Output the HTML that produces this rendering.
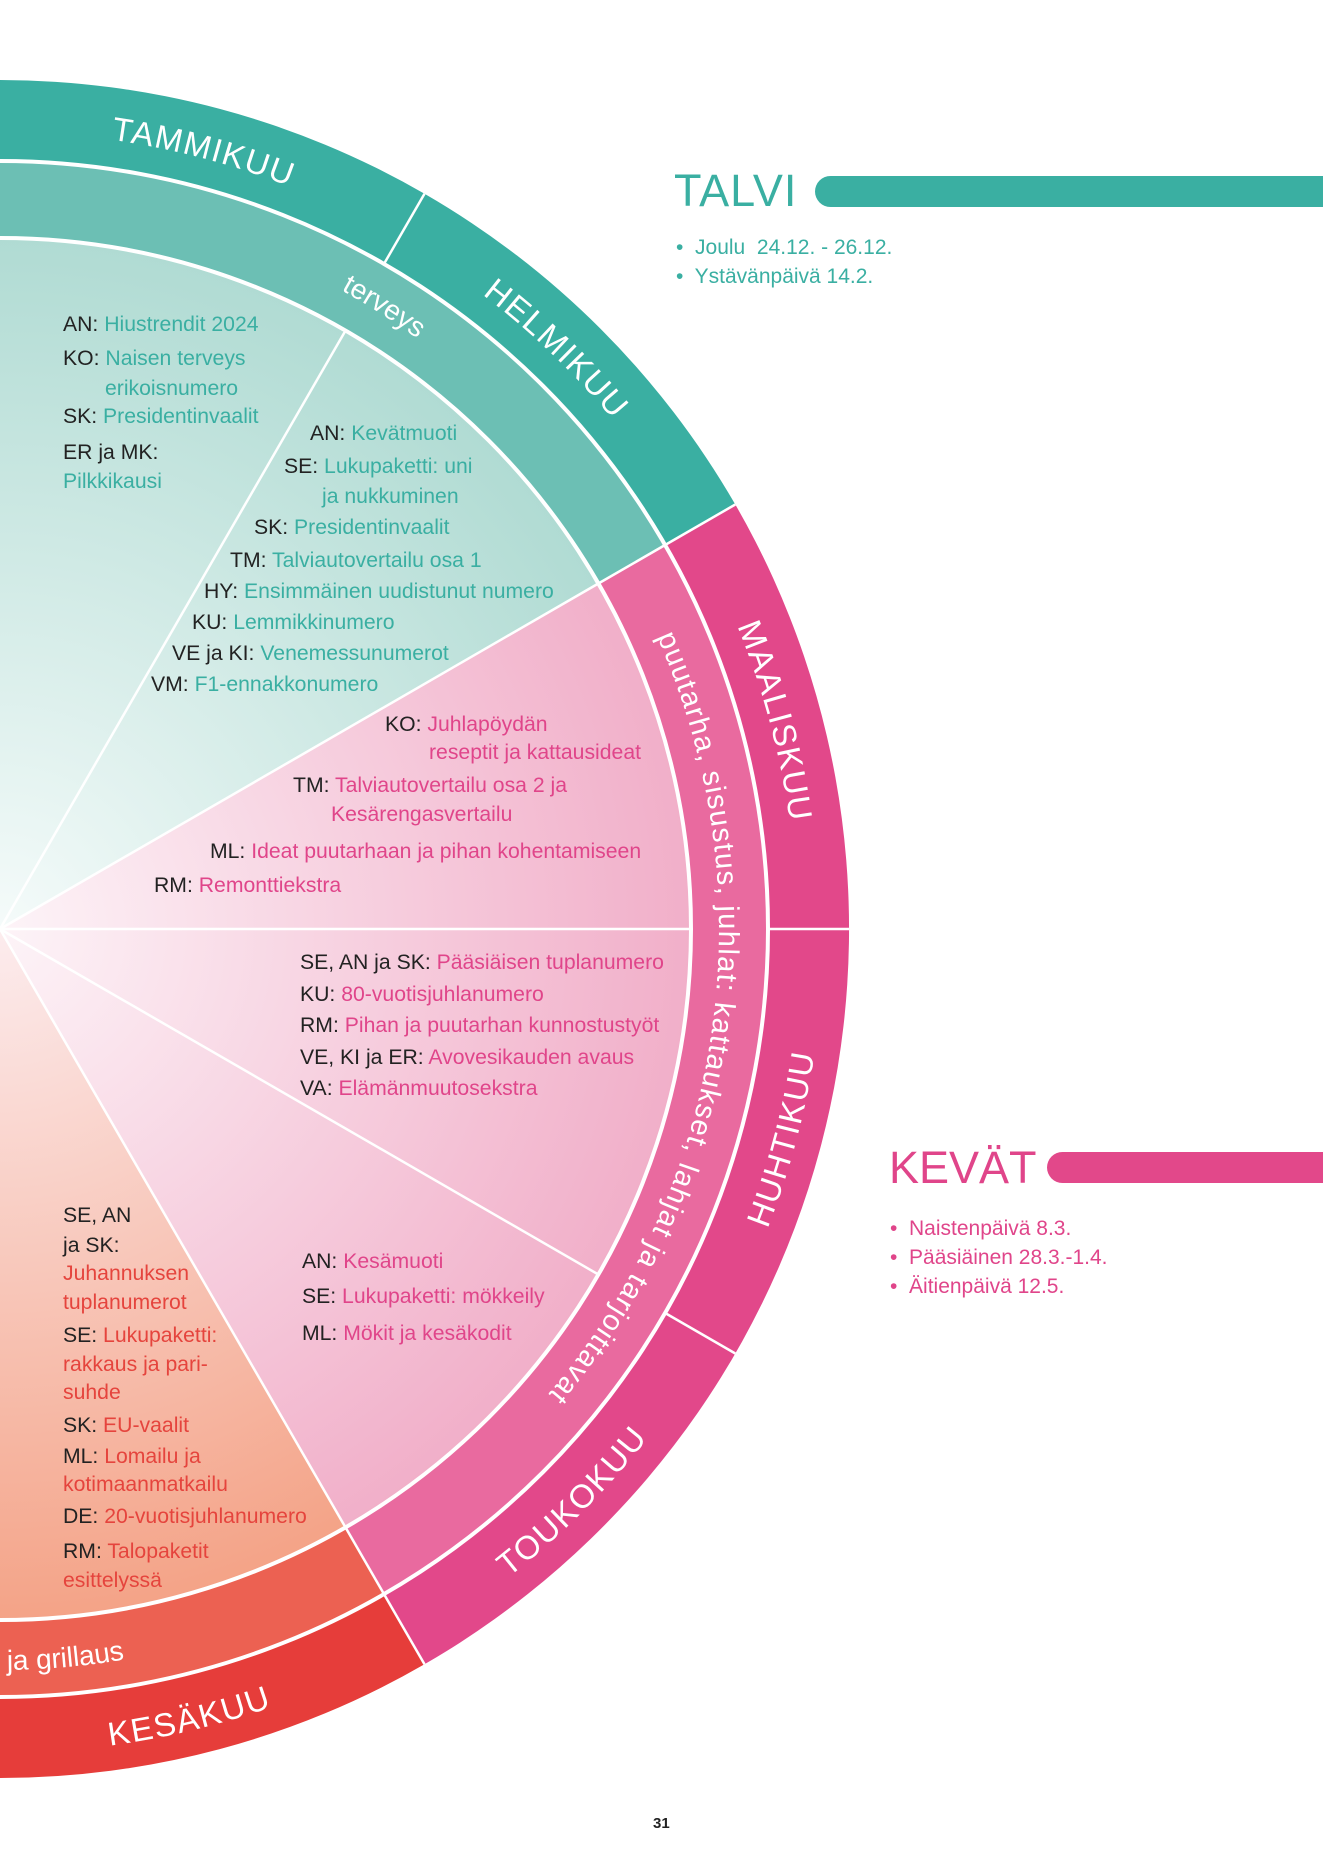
<!DOCTYPE html>
<html><head><meta charset="utf-8">
<style>
html,body{margin:0;padding:0;background:#fff;}
body{width:1323px;height:1871px;position:relative;overflow:hidden;font-family:"Liberation Sans","DejaVu Sans",sans-serif;}
.l{position:absolute;font-size:21.2px;line-height:24px;margin-top:-12px;white-space:nowrap;color:#222;}
.t{color:#3aafa2}.p{color:#e0458a}.r{color:#e5443d}
.h{position:absolute;font-size:45px;line-height:50px;margin-top:-25px;letter-spacing:1px;}
.b{position:absolute;font-size:21px;line-height:24px;margin-top:-12px;white-space:nowrap;}
.bar{position:absolute;height:31px;border-radius:16px 0 0 16px;}
</style></head><body>
<svg width="1323" height="1871" style="position:absolute;left:0;top:0">
<defs>
<radialGradient id="gt" cx="0" cy="929" r="691" gradientUnits="userSpaceOnUse"><stop offset="0" stop-color="#f5fbfa"/><stop offset="1" stop-color="#b0dbd3"/></radialGradient>
<radialGradient id="gp" cx="0" cy="929" r="691" gradientUnits="userSpaceOnUse"><stop offset="0" stop-color="#fdf4f8"/><stop offset="1" stop-color="#f1afc9"/></radialGradient>
<radialGradient id="gr" cx="0" cy="929" r="691" gradientUnits="userSpaceOnUse"><stop offset="0" stop-color="#fcecee"/><stop offset="1" stop-color="#f4a387"/></radialGradient>
</defs>
<path d="M0,80 A849 849 0 0 1 735.3,504.5 L665.1,545 A768 768 0 0 0 0,161 Z" fill="#3aafa2"/>
<path d="M735.3,504.5 A849 849 0 0 1 424.5,1664.3 L384,1594.1 A768 768 0 0 0 665.1,545 Z" fill="#e2488a"/>
<path d="M424.5,1664.3 A849 849 0 0 1 0,1778 L0,1697 A768 768 0 0 0 384,1594.1 Z" fill="#e63d3a"/>
<path d="M0,161 A768 768 0 0 1 665.1,545 L598.4,583.5 A691 691 0 0 0 0,238 Z" fill="#6cbfb4"/>
<path d="M665.1,545 A768 768 0 0 1 384,1594.1 L345.5,1527.4 A691 691 0 0 0 598.4,583.5 Z" fill="#e96a9f"/>
<path d="M384,1594.1 A768 768 0 0 1 0,1697 L0,1620 A691 691 0 0 0 345.5,1527.4 Z" fill="#ec6152"/>
<path d="M0,929 L0,238 A691 691 0 0 1 598.4,583.5 Z" fill="url(#gt)"/>
<path d="M0,929 L598.4,583.5 A691 691 0 0 1 345.5,1527.4 Z" fill="url(#gp)"/>
<path d="M0,929 L345.5,1527.4 A691 691 0 0 1 0,1620 Z" fill="url(#gr)"/>
<g stroke="#fff" stroke-width="2.5" fill="none">
<circle cx="0" cy="929" r="768" stroke-width="4"/>
<circle cx="0" cy="929" r="691" stroke-width="4"/>
<line x1="0" y1="929" x2="345.5" y2="330.6"/>
<line x1="0" y1="929" x2="598.4" y2="583.5"/>
<line x1="0" y1="929" x2="691" y2="929"/>
<line x1="0" y1="929" x2="598.4" y2="1274.5"/>
<line x1="0" y1="929" x2="345.5" y2="1527.4"/>
<line x1="384" y1="263.9" x2="424.5" y2="193.7"/>
<line x1="665.1" y1="545" x2="735.3" y2="504.5"/>
<line x1="598.4" y1="583.5" x2="665.1" y2="545"/>
<line x1="768" y1="929" x2="849" y2="929"/>
<line x1="665.1" y1="1313" x2="735.3" y2="1353.5"/>
<line x1="345.5" y1="1527.4" x2="384" y2="1594.1"/>
<line x1="384" y1="1594.1" x2="424.5" y2="1664.3"/>
</g>
<defs>
<path id="a1" d="M-0.0,132.0 A797 797 0 0 1 421.2,252.4"/>
<path id="a2" d="M398.5,238.8 A797 797 0 0 1 690.2,530.5"/>
<path id="a3" d="M690.2,530.5 A797 797 0 0 1 797,929 A797 797 0 0 1 690.2,1327.5"/>
<path id="a4" d="M713.6,1341 A824 824 0 0 0 824,929 A824 824 0 0 0 713.6,517"/>
<path id="a5" d="M412,1642.6 A824 824 0 0 0 713.6,1341"/>
<path id="a6" d="M0,1753 A824 824 0 0 0 412,1642.6"/>
<path id="t1" d="M190,228 A719 719 0 0 1 600,533"/>
<path id="t2" d="M656.9,636.6 A719 719 0 0 1 719,929 A719 719 0 0 1 359.5,1551.7"/>
<path id="t3" d="M-1,1670 A741 741 0 0 0 370.5,1570.7"/>
</defs>
<g fill="#fff" font-family="Liberation Sans, sans-serif" font-size="33" letter-spacing="1.5">
<text><textPath href="#a1" startOffset="46%" text-anchor="middle">TAMMIKUU</textPath></text>
<text><textPath href="#a2" startOffset="46%" text-anchor="middle">HELMIKUU</textPath></text>
<text><textPath href="#a3" startOffset="25%" text-anchor="middle">MAALISKUU</textPath></text>
<text><textPath href="#a4" startOffset="25%" text-anchor="middle">HUHTIKUU</textPath></text>
<text><textPath href="#a5" startOffset="50%" text-anchor="middle">TOUKOKUU</textPath></text>
<text><textPath href="#a6" startOffset="45%" text-anchor="middle">KESÄKUU</textPath></text>
</g>
<g fill="#fff" font-family="Liberation Sans, sans-serif" font-size="28">
<text><textPath href="#t1" startOffset="40%" text-anchor="middle">terveys</textPath></text>
<text font-size="29" letter-spacing="1.3"><textPath href="#t2" startOffset="0">puutarha, sisustus, juhlat: kattaukset, lahjat ja tarjoittavat</textPath></text>
<text><textPath href="#t3" startOffset="8">ja grillaus</textPath></text>
</g>
</svg>

<div class="l" style="left:63px;top:325px">AN: <span class="t">Hiustrendit 2024</span></div>
<div class="l" style="left:63px;top:359px">KO: <span class="t">Naisen terveys</span></div>
<div class="l t" style="left:105px;top:389px">erikoisnumero</div>
<div class="l" style="left:63px;top:417px">SK: <span class="t">Presidentinvaalit</span></div>
<div class="l" style="left:63px;top:453px">ER ja MK:</div>
<div class="l t" style="left:63px;top:482px">Pilkkikausi</div>

<div class="l" style="left:310px;top:434px">AN: <span class="t">Kevätmuoti</span></div>
<div class="l" style="left:284px;top:467px">SE: <span class="t">Lukupaketti: uni</span></div>
<div class="l t" style="left:322px;top:497px">ja nukkuminen</div>
<div class="l" style="left:254px;top:528px">SK: <span class="t">Presidentinvaalit</span></div>
<div class="l" style="left:230px;top:561px">TM: <span class="t">Talviautovertailu osa 1</span></div>
<div class="l" style="left:204px;top:592px">HY: <span class="t">Ensimmäinen uudistunut numero</span></div>
<div class="l" style="left:192px;top:623px">KU: <span class="t">Lemmikkinumero</span></div>
<div class="l" style="left:172px;top:654px">VE ja KI: <span class="t">Venemessunumerot</span></div>
<div class="l" style="left:151px;top:685px">VM: <span class="t">F1-ennakkonumero</span></div>

<div class="l" style="left:385px;top:725px">KO: <span class="p">Juhlapöydän</span></div>
<div class="l p" style="left:429px;top:753px">reseptit ja kattausideat</div>
<div class="l" style="left:293px;top:786px">TM: <span class="p">Talviautovertailu osa 2 ja</span></div>
<div class="l p" style="left:331px;top:815px">Kesärengasvertailu</div>
<div class="l" style="left:210px;top:852px">ML: <span class="p">Ideat puutarhaan ja pihan kohentamiseen</span></div>
<div class="l" style="left:154px;top:886px">RM: <span class="p">Remonttiekstra</span></div>

<div class="l" style="left:300px;top:963px">SE, AN ja SK: <span class="p">Pääsiäisen tuplanumero</span></div>
<div class="l" style="left:300px;top:995px">KU: <span class="p">80-vuotisjuhlanumero</span></div>
<div class="l" style="left:300px;top:1026px">RM: <span class="p">Pihan ja puutarhan kunnostustyöt</span></div>
<div class="l" style="left:300px;top:1058px">VE, KI ja ER: <span class="p">Avovesikauden avaus</span></div>
<div class="l" style="left:300px;top:1089px">VA: <span class="p">Elämänmuutosekstra</span></div>

<div class="l" style="left:302px;top:1262px">AN: <span class="p">Kesämuoti</span></div>
<div class="l" style="left:302px;top:1297px">SE: <span class="p">Lukupaketti: mökkeily</span></div>
<div class="l" style="left:302px;top:1334px">ML: <span class="p">Mökit ja kesäkodit</span></div>

<div class="l" style="left:63px;top:1216px">SE, AN</div>
<div class="l" style="left:63px;top:1246px">ja SK:</div>
<div class="l r" style="left:63px;top:1274px">Juhannuksen</div>
<div class="l r" style="left:63px;top:1303px">tuplanumerot</div>
<div class="l" style="left:63px;top:1336px">SE: <span class="r">Lukupaketti:</span></div>
<div class="l r" style="left:63px;top:1365px">rakkaus ja pari-</div>
<div class="l r" style="left:63px;top:1393px">suhde</div>
<div class="l" style="left:63px;top:1426px">SK: <span class="r">EU-vaalit</span></div>
<div class="l" style="left:63px;top:1457px">ML: <span class="r">Lomailu ja</span></div>
<div class="l r" style="left:63px;top:1485px">kotimaanmatkailu</div>
<div class="l" style="left:63px;top:1517px">DE: <span class="r">20-vuotisjuhlanumero</span></div>
<div class="l" style="left:63px;top:1552px">RM: <span class="r">Talopaketit</span></div>
<div class="l r" style="left:63px;top:1581px">esittelyssä</div>

<div class="h t" style="left:674px;top:191px">TALVI</div>
<div class="bar" style="left:815px;top:176px;width:508px;background:#3aafa2"></div>
<div class="b t" style="left:676px;top:248px">•&nbsp; Joulu&nbsp; 24.12. - 26.12.</div>
<div class="b t" style="left:676px;top:277px">•&nbsp; Ystävänpäivä 14.2.</div>

<div class="h p" style="left:889px;top:1168px;letter-spacing:0">KEVÄT</div>
<div class="bar" style="left:1047px;top:1152px;width:276px;background:#e2488a"></div>
<div class="b p" style="left:890px;top:1229px">•&nbsp; Naistenpäivä 8.3.</div>
<div class="b p" style="left:890px;top:1258px">•&nbsp; Pääsiäinen 28.3.-1.4.</div>
<div class="b p" style="left:890px;top:1287px">•&nbsp; Äitienpäivä 12.5.</div>

<div style="position:absolute;left:653px;top:1815px;font-size:15px;font-weight:bold;color:#222">31</div>
</body></html>
